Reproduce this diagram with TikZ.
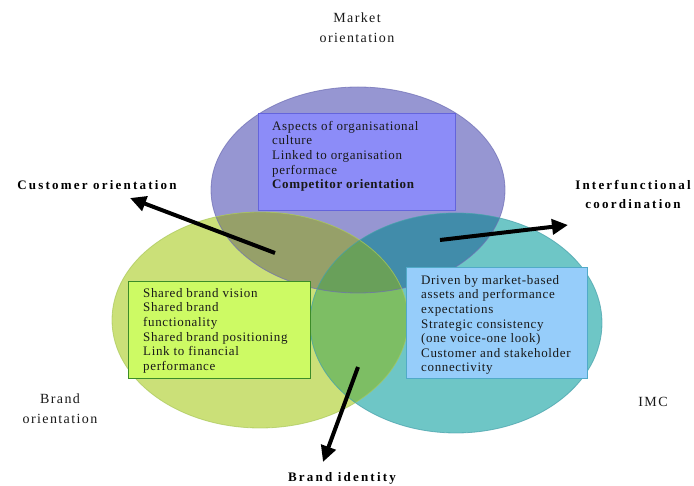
\documentclass[tikz,border=0pt]{standalone}
\usepackage{fontspec}
\setmainfont{Liberation Serif}
\newfontfamily\boxfont[LetterSpace=5]{Liberation Serif}
\newfontfamily\labfont[LetterSpace=17]{Liberation Serif}
\newfontfamily\capfont[LetterSpace=10]{Liberation Serif}
\usetikzlibrary{arrows.meta}
\definecolor{topc}{RGB}{150,150,210}
\definecolor{leftc}{RGB}{203,224,120}
\definecolor{rightc}{RGB}{110,198,198}
\definecolor{tlc}{RGB}{150,160,105}
\definecolor{trc}{RGB}{65,140,170}
\definecolor{lrc}{RGB}{125,190,100}
\definecolor{tlrc}{RGB}{105,160,90}
\definecolor{topb}{RGB}{110,110,180}
\definecolor{leftb}{RGB}{170,200,90}
\definecolor{rightb}{RGB}{70,160,170}
\definecolor{tboxf}{RGB}{140,140,248}
\definecolor{tboxd}{RGB}{100,100,220}
\definecolor{lboxf}{RGB}{205,250,100}
\definecolor{lboxd}{RGB}{60,140,40}
\definecolor{rboxf}{RGB}{150,205,250}
\definecolor{rboxd}{RGB}{80,170,200}
\tikzset{
  txt/.style={font=\boxfont\fontsize{13}{14.6}\selectfont, align=left, inner sep=0pt, anchor=north west, text=black!90},
  boxnode/.style={rectangle, line width=0.9pt, inner sep=0pt, anchor=north west},
  lab/.style={font=\labfont\bfseries\fontsize{13}{19}\selectfont, align=center, inner sep=0pt},
  caplab/.style={font=\capfont\fontsize{14}{20}\selectfont, align=center, inner sep=0pt, text=black!90},
  bigarrow/.style={line width=4pt, -{Triangle[length=16pt,width=15pt]}},
}
\begin{document}
\begin{tikzpicture}[x=1pt,y=-1pt]
\useasboundingbox (0,0) rectangle (694,486);
\fill[white] (0,0) rectangle (694,486);
% ellipses
\fill[topc] (358,190) ellipse [x radius=147pt, y radius=103pt];
\fill[leftc] (260,320) ellipse [x radius=148pt, y radius=108pt];
\fill[rightc] (456,323) ellipse [x radius=146pt, y radius=110pt];
\begin{scope}
  \clip (358,190) ellipse [x radius=147pt, y radius=103pt];
  \fill[tlc] (260,320) ellipse [x radius=148pt, y radius=108pt];
  \fill[trc] (456,323) ellipse [x radius=146pt, y radius=110pt];
\end{scope}
\begin{scope}
  \clip (260,320) ellipse [x radius=148pt, y radius=108pt];
  \fill[lrc] (456,323) ellipse [x radius=146pt, y radius=110pt];
\end{scope}
\begin{scope}
  \clip (358,190) ellipse [x radius=147pt, y radius=103pt];
  \clip (260,320) ellipse [x radius=148pt, y radius=108pt];
  \fill[tlrc] (456,323) ellipse [x radius=146pt, y radius=110pt];
\end{scope}
\draw[topb, line width=0.8pt, opacity=0.7] (358,190) ellipse [x radius=147pt, y radius=103pt];
\draw[leftb, line width=0.8pt, opacity=0.7] (260,320) ellipse [x radius=148pt, y radius=108pt];
\draw[rightb, line width=0.8pt, opacity=0.7] (456,323) ellipse [x radius=146pt, y radius=110pt];
% boxes
\node[boxnode, fill=tboxf, draw=tboxd, minimum width=197pt, minimum height=97pt] (tb) at (258,113) {};
\node[boxnode, fill=lboxf, draw=lboxd, minimum width=182pt, minimum height=97pt] (lb) at (128,281) {};
\node[boxnode, fill=rboxf, draw=rboxd, minimum width=181pt, minimum height=111pt] (rb) at (406,267) {};
\node[txt] (tbt) at (272,121) {Aspects of organisational\\culture\\Linked to organisation\\performace\\\textbf{Competitor orientation}};
\node[txt] (lbt) at (143,288) {Shared brand vision\\Shared brand\\functionality\\Shared brand positioning\\Link to financial\\performance};
\node[txt] (rbt) at (421,275) {Driven by market-based\\assets and performance\\expectations\\Strategic consistency\\(one voice-one look)\\Customer and stakeholder\\connectivity};
% labels
\node[caplab] (mo) at (357,28) {Market\\orientation};
\node[caplab] (bo) at (60,409) {Brand\\orientation};
\node[caplab] (imc) at (653,402) {IMC};
\node[lab] (co) at (97,185) {Customer orientation};
\node[lab] (ic) at (633,194) {Interfunctional\\coordination};
\node[lab] (bi) at (342,478) {Brand identity};
% arrows
\coordinate (cot) at (275,253);
\coordinate (coh) at (130,198);
\coordinate (ict) at (440,240);
\coordinate (ich) at (568,225);
\coordinate (bit) at (358,367);
\coordinate (bih) at (323,462);
\draw[bigarrow] (cot) -- (coh);
\draw[bigarrow] (ict) -- (ich);
\draw[bigarrow] (bit) -- (bih);
\end{tikzpicture}
\end{document}
